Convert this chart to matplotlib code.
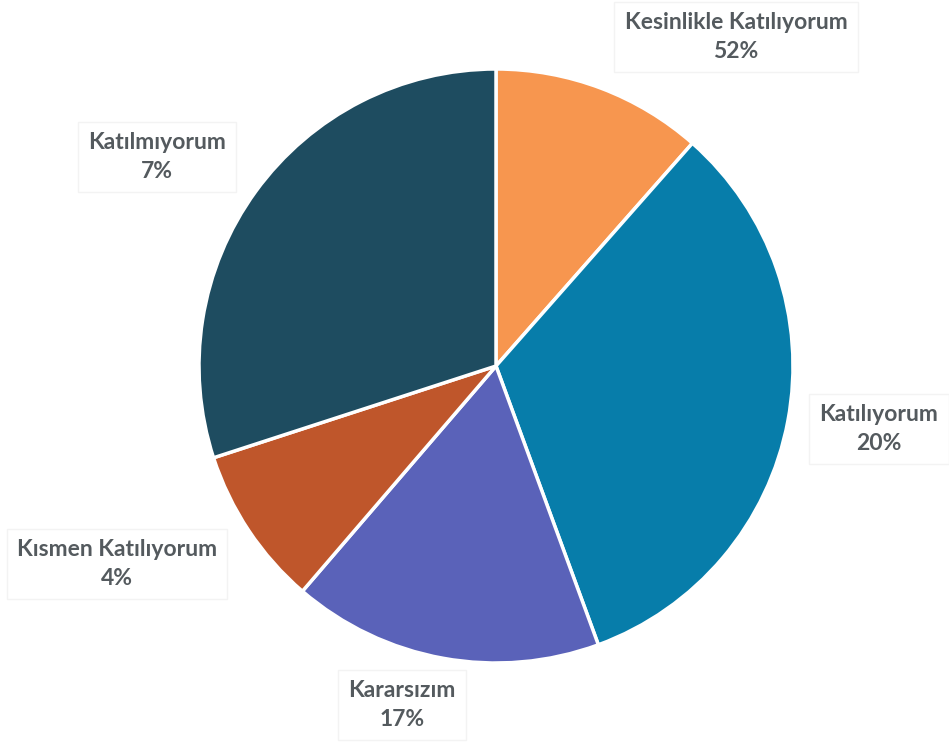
import matplotlib
matplotlib.use("Agg")
import matplotlib.pyplot as plt

# slice sizes (degrees share), and the printed labels
categories = ["Kesinlikle Katılıyorum", "Katılıyorum", "Kararsızım",
              "Kısmen Katılıyorum", "Katılmıyorum"]
slice_sizes = [11.5, 32.9, 16.9, 8.7, 30.0]
label_pcts = ["52%", "20%", "17%", "4%", "7%"]
colors = ["#F7964F", "#077DAA", "#5A62B9", "#BF562B", "#1E4C60"]

# label centres in figure pixels (x, y from top)
label_pos = [(736, 37), (879, 429), (402, 705), (117, 564), (157, 157)]

W, H = 949, 746
fig = plt.figure(figsize=(W / 100, H / 100), dpi=100)
cx, cy, r = 496, 366, 297
ax = fig.add_axes([(cx - r) / W, (H - cy - r) / H, 2 * r / W, 2 * r / H])

ax.pie(slice_sizes, colors=colors, startangle=90, counterclock=False,
       wedgeprops=dict(edgecolor="white", linewidth=2.5))
ax.set_xlim(-1, 1)
ax.set_ylim(-1, 1)
ax.set_aspect("equal")
ax.axis("off")

for name, pct, (x, y) in zip(categories, label_pcts, label_pos):
    fig.text(x / W, 1 - y / H, name + "\n" + pct, ha="center", va="center",
             fontsize=16.5, family="Lato", fontweight="bold", color="#545A5E",
             linespacing=1.45,
             bbox=dict(boxstyle="square,pad=0.45", facecolor="white",
                       edgecolor="#F3F3F3", linewidth=1))

fig.savefig("out.png", dpi=100)
